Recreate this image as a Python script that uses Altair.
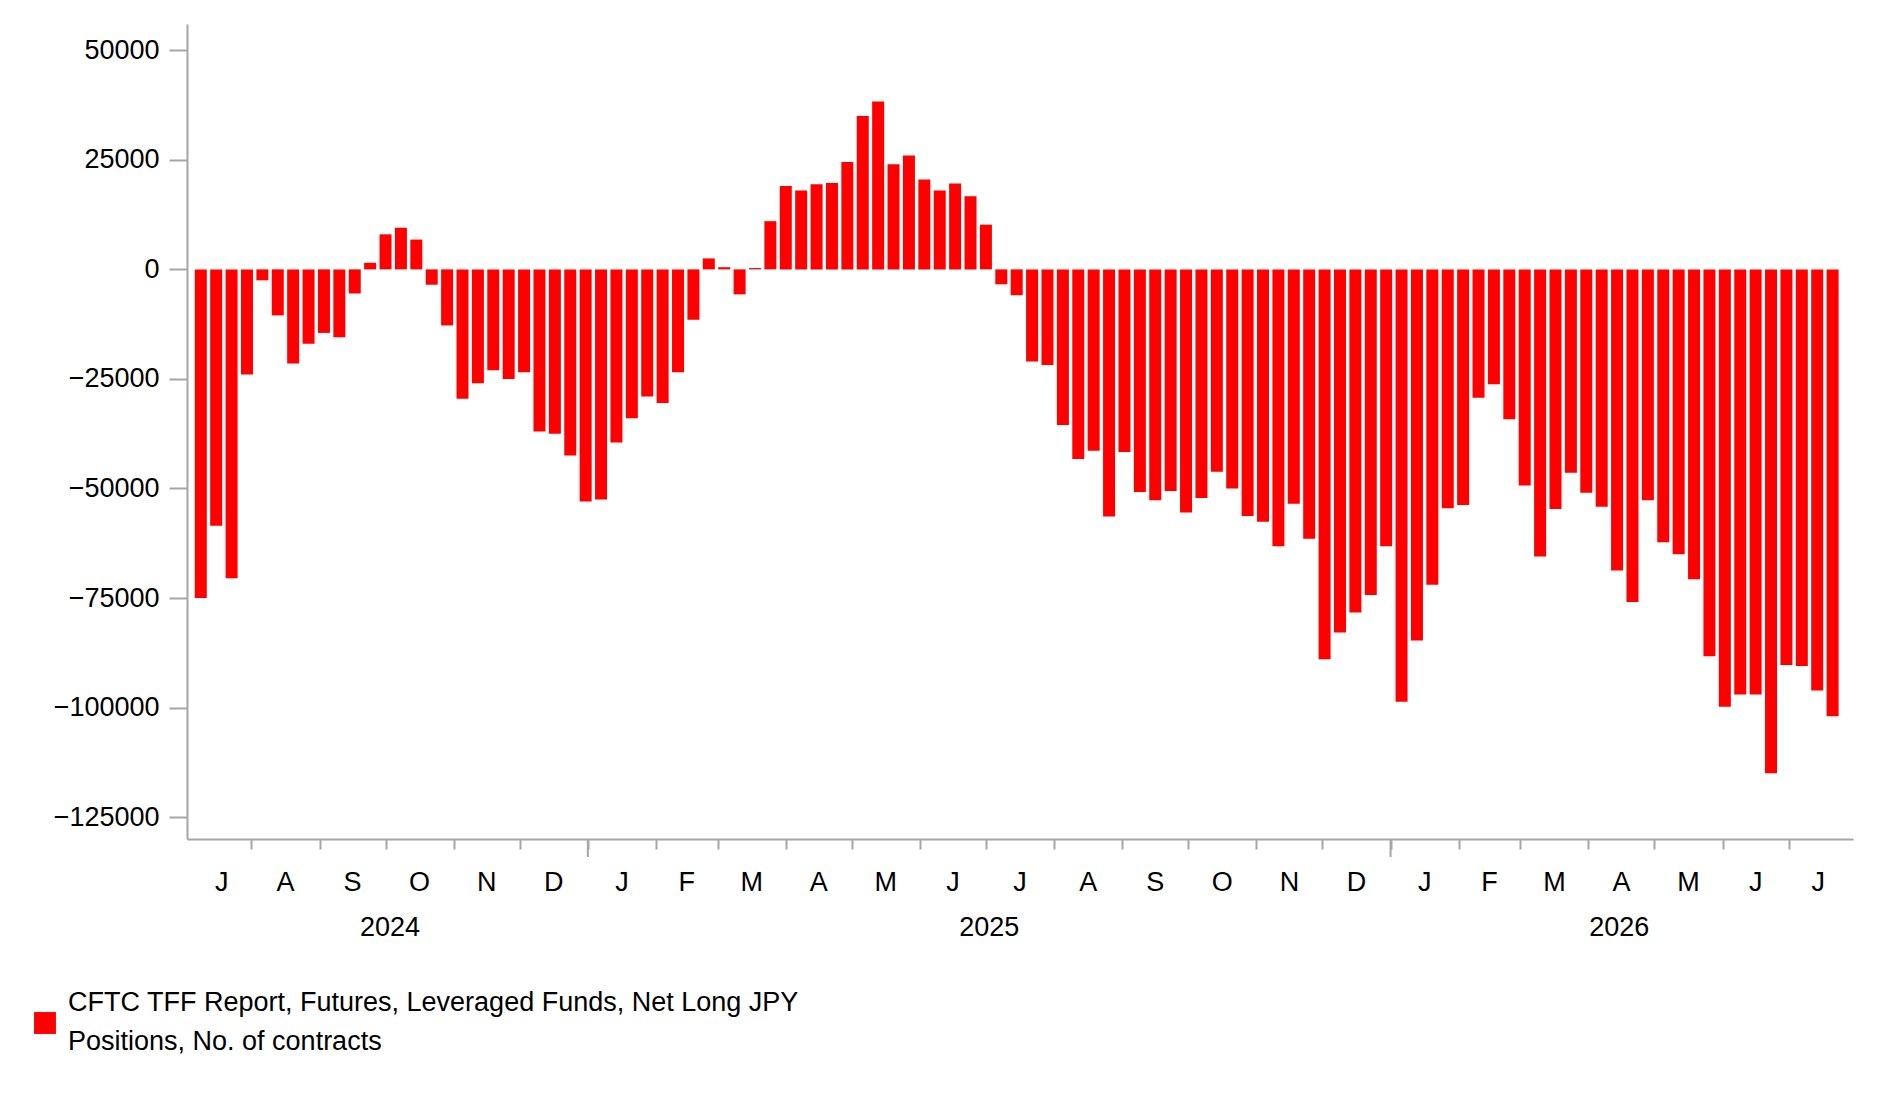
import altair as alt
import pandas as pd

RED = "#FF0000"
GREY = "#A6A6A6"
FONT = "Liberation Sans"

first_week = "2024-07-09"
net_long = [
    -75000, -58500, -70500, -24000, -2500, -10500, -21500, -17000, -14500, -15500,
    -5500, 1500, 8000, 9500, 6800, -3500, -12800, -29500, -26000, -23000,
    -25000, -23500, -37000, -37500, -42500, -53000, -52500, -39500, -34000, -29000,
    -30500, -23500, -11500, 2500, 500, -5700, 300, 11000, 19000, 18000,
    19400, 19700, 24500, 35000, 38300, 24000, 26000, 20500, 18000, 19600,
    16700, 10200, -3400, -5900, -21000, -21800, -35500, -43300, -41400, -56400,
    -41700, -50800, -52700, -50600, -55500, -52200, -46200, -50000, -56300, -57600,
    -63200, -53500, -61500, -89000, -82900, -78300, -74300, -63200, -98700, -84700,
    -72000, -54500, -53800, -29300, -26200, -34200, -49300, -65500, -54700, -46400,
    -51000, -54200, -68700, -75900, -52700, -62300, -65000, -70700, -88300, -99800,
    -97000, -97000, -115000, -90300, -90500, -96100, -102000,
]
series_name = "CFTC TFF Report, Futures, Leveraged Funds, Net Long JPY\nPositions, No. of contracts"
y_ticks = [50000, 25000, 0, -25000, -50000, -75000, -100000, -125000]
domain_start, domain_end = "2024-07-05", "2026-07-28"

W, H = 1666, 815

bars = pd.DataFrame({
    "week": pd.date_range(first_week, periods=len(net_long), freq="7D"),
    "value": net_long,
})

# month letters centred on the visible part of each month
start, end = pd.Timestamp(domain_start), pd.Timestamp(domain_end)
month_starts = pd.date_range(start.to_period("M").to_timestamp(), end, freq="MS")
rows = []
for m in month_starts:
    lo = max(m, start)
    hi = min(m + pd.offsets.MonthBegin(1), end)
    rows.append({"date": lo + (hi - lo) / 2, "label": m.strftime("%B")[0]})
months = pd.DataFrame(rows)
years = []
for y in sorted(set(d.year for d in month_starts)):
    lo = max(pd.Timestamp(f"{y}-01-01"), start)
    hi = min(pd.Timestamp(f"{y + 1}-01-01"), end)
    years.append({"date": lo + (hi - lo) / 2, "label": str(y)})
years = pd.DataFrame(years)
year_bounds = pd.DataFrame({"date": [d for d in month_starts if d.month == 1 and d > start]})

x_scale = alt.Scale(domain=[domain_start, domain_end])
tick_vals = [d.strftime("%Y-%m-%d") for d in month_starts if d > start]

bar = alt.Chart(bars).mark_bar(color=RED, size=12).encode(
    x=alt.X("week:T", scale=x_scale, title=None,
            axis=alt.Axis(values=tick_vals, labels=False, grid=False, domainColor=GREY,
                          domainWidth=2, tickColor=GREY, tickWidth=2, tickSize=10)),
    y=alt.Y("value:Q", title=None,
            scale=alt.Scale(domain=[-130000, 56000], nice=False, zero=False),
            axis=alt.Axis(values=y_ticks, format="d", grid=False, domainColor=GREY,
                          domainWidth=2, tickColor=GREY, tickWidth=2, tickSize=18,
                          labelPadding=10, labelFont=FONT, labelFontSize=27,
                          labelColor="#000000")),
)

year_ticks = alt.Chart(year_bounds).mark_rule(color=GREY, strokeWidth=2).encode(
    x=alt.X("date:T", scale=x_scale), y=alt.value(H), y2=alt.value(H + 18)
)
month_text = alt.Chart(months).mark_text(font=FONT, fontSize=27, baseline="middle").encode(
    x=alt.X("date:T", scale=x_scale), y=alt.value(H + 44), text="label:N"
)
year_text = alt.Chart(years).mark_text(font=FONT, fontSize=27, baseline="middle").encode(
    x=alt.X("date:T", scale=x_scale), y=alt.value(H + 89), text="label:N"
)
legend_box = alt.Chart(pd.DataFrame({"s": [series_name]})).mark_square(
    color=RED, size=480, opacity=1
).encode(x=alt.value(-142), y=alt.value(H + 184))
legend_text = alt.Chart(pd.DataFrame({"s": [series_name]})).mark_text(
    font=FONT, fontSize=27, align="left", baseline="middle", lineBreak="\n", lineHeight=39
).encode(x=alt.value(-119), y=alt.value(H + 164), text="s:N")

chart = (
    alt.layer(bar, year_ticks, month_text, year_text, legend_box, legend_text)
    .properties(width=W, height=H, autosize=alt.AutoSizeParams(type="none"),
                padding={"left": 179, "top": 16, "right": 22, "bottom": 250})
    .configure_view(strokeWidth=0)
)
chart.save("out.html", embed_options={"renderer": "svg", "actions": False})
